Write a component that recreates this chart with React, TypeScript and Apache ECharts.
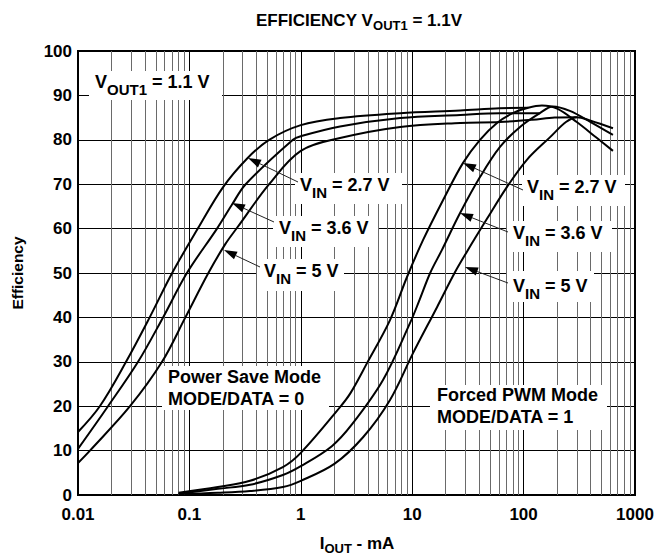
import React, { useEffect, useRef } from 'react';
import * as echarts from 'echarts';

const FONT = "'Liberation Sans', Arial, Helvetica, sans-serif";

// ---- data (I_OUT in mA, efficiency in %) ----
const psVin27: [number, number][] = [
  [0.01, 14.2], [0.0157, 20], [0.027, 30], [0.044, 40], [0.07, 50], [0.119, 60],
  [0.2, 69.3], [0.33, 75.8], [0.52, 80], [1, 83.3], [2.25, 84.9], [7.8, 86],
  [27, 86.6], [61, 87.1], [110, 87.2],
];
const psVin36: [number, number][] = [
  [0.01, 10.4], [0.0186, 20], [0.0346, 30], [0.058, 40], [0.095, 50], [0.177, 60],
  [0.24, 65.3], [0.32, 70], [0.85, 80], [1, 80.8], [2.25, 83], [7.8, 84.9],
  [27, 85.6], [61, 86], [140, 86],
];
const psVin50: [number, number][] = [
  [0.01, 7.2], [0.0128, 10], [0.0293, 20], [0.0568, 30], [0.092, 40], [0.148, 50],
  [0.21, 56.5], [0.27, 60.3], [0.52, 70], [1, 77.5], [2.25, 80.4], [7.8, 82.9],
  [27, 83.8], [61, 84], [120, 84.5], [190, 85], [300, 85.1],
];
const pwmVin27: [number, number][] = [
  [0.08, 0.5], [0.18, 1.8], [0.35, 3.2], [0.69, 6.3], [1, 9.5], [2.25, 19.8],
  [2.8, 23], [3.93, 29.7], [6.32, 39.4], [8.98, 49.1], [12.5, 57.4], [18.9, 66.4],
  [28.6, 74.8], [40.6, 80], [57.7, 83.8], [80, 86], [110, 87.2], [146, 87.7],
  [200, 87], [300, 84], [450, 80.5], [634, 77.5],
];
const pwmVin36: [number, number][] = [
  [0.08, 0.3], [0.18, 1.4], [0.35, 2.3], [0.69, 4.5], [1, 6.5], [1.9, 11], [2.9, 16],
  [5.47, 25.9], [9.55, 38.7], [11.5, 43.6], [14.5, 50], [18.5, 55.2], [26.9, 63.5],
  [40.6, 71.6], [61.4, 78.4], [92.9, 82.9], [140, 86], [183, 87.5], [260, 86.5],
  [400, 84], [634, 81.1],
];
const pwmVin50: [number, number][] = [
  [0.08, 0.2], [0.18, 0.5], [0.35, 0.9], [0.69, 1.8], [1, 3.2], [2, 7],
  [3.62, 13], [6.32, 21.4], [10.2, 32], [16.7, 42.3], [24, 50],
  [31, 54.8], [46.9, 62.2], [71, 69.4], [107, 75.5], [173, 80.6], [240, 84],
  [300, 85.1], [400, 84.3], [634, 82.6],
];

const xMin = 0.01;
const xMax = 1000;
const yMin = 0;
const yMax = 100;
const yStep = 10;
const decades = [0.01, 0.1, 1, 10, 100];
const minorSteps = [2, 3, 4, 5, 6, 7, 8, 9];

// ---- text helpers ----
let measureCtx: CanvasRenderingContext2D | null = null;
function textWidth(s: string, size: number): number {
  if (!measureCtx) measureCtx = document.createElement('canvas').getContext('2d');
  measureCtx!.font = `bold ${size}px ${FONT}`;
  return measureCtx!.measureText(s).width;
}

type Seg = { t: string; sub?: boolean };

function richText(
  segs: Seg[], x0: number, cy: number, main: number, sub: number, subDy: number,
  anchor: 'left' | 'center'
): any[] {
  const widths = segs.map((s) => textWidth(s.t, s.sub ? sub : main));
  const total = widths.reduce((a, b) => a + b, 0);
  let x = anchor === 'center' ? x0 - total / 2 : x0;
  const out: any[] = [];
  segs.forEach((s, i) => {
    const size = s.sub ? sub : main;
    const lead = s.t.length - s.t.replace(/^\s+/, '').length;
    const leadW = lead ? textWidth(s.t.slice(0, lead), size) : 0;
    out.push({
      type: 'text',
      z: 101,
      silent: true,
      style: {
        text: s.t.trim(),
        x: x + leadW,
        y: cy + (s.sub ? subDy : 0),
        font: `bold ${size}px ${FONT}`,
        fill: '#000',
        textAlign: 'left',
        textVerticalAlign: 'middle',
        align: 'left',
        verticalAlign: 'middle',
      },
    });
    x += widths[i];
  });
  return out;
}

function box(x1: number, y1: number, x2: number, y2: number): any {
  return {
    type: 'rect',
    z: 100,
    silent: true,
    shape: { x: x1, y: y1, width: x2 - x1, height: y2 - y1 },
    style: { fill: '#fff' },
  };
}

function arrow(tail: [number, number], tip: [number, number]): any[] {
  const dx = tip[0] - tail[0];
  const dy = tip[1] - tail[1];
  const len = Math.hypot(dx, dy);
  const ux = dx / len;
  const uy = dy / len;
  const L = 13;
  const W = 4.2;
  const bx = tip[0] - ux * L;
  const by = tip[1] - uy * L;
  const nx = -uy;
  const ny = ux;
  return [
    {
      type: 'line',
      z: 102,
      silent: true,
      shape: { x1: tail[0], y1: tail[1], x2: bx, y2: by },
      style: { stroke: '#222', lineWidth: 1 },
    },
    {
      type: 'polygon',
      z: 102,
      silent: true,
      shape: { points: [tip, [bx + nx * W, by + ny * W], [bx - nx * W, by - ny * W]] },
      style: { fill: '#000' },
    },
  ];
}

function vin(v: string): Seg[] {
  return [{ t: 'V' }, { t: 'IN', sub: true }, { t: ` = ${v} V` }];
}

export default function App() {
  const ref = useRef<HTMLDivElement>(null);

  useEffect(() => {
    if (!ref.current) return;
    const chart = echarts.init(ref.current, undefined, { renderer: 'svg' });

    const minorX: number[] = [];
    decades.forEach((d) => minorSteps.forEach((m) => minorX.push(+(d * m).toPrecision(3))));

    const curve = (name: string, data: [number, number][]) => ({
      name,
      type: 'line',
      data,
      showSymbol: false,
      symbol: 'none',
      smooth: 0.35,
      lineStyle: { color: '#000', width: 2 },
      z: 5,
      silent: true,
    });

    const graphics: any[] = [
      // title
      ...richText(
        [{ t: 'EFFICIENCY V' }, { t: 'OUT1', sub: true }, { t: ' = 1.1V' }],
        359, 20, 17, 13, 5, 'center'
      ),
      // x-axis name
      ...richText([{ t: 'I' }, { t: 'OUT', sub: true }, { t: ' - mA' }], 357, 543, 17, 13, 5, 'center'),
      // y-axis name
      {
        type: 'text',
        z: 101,
        x: 17,
        y: 273,
        rotation: Math.PI / 2,
        silent: true,
        style: {
          text: 'Efficiency',
          x: 0,
          y: 0,
          font: `bold 15.5px ${FONT}`,
          fill: '#000',
          textAlign: 'center',
          textVerticalAlign: 'middle',
          align: 'center',
          verticalAlign: 'middle',
        },
      },
      // VOUT1 label
      box(89, 71, 222, 100),
      ...richText([{ t: 'V' }, { t: 'OUT1', sub: true }, { t: ' = 1.1 V' }], 95, 82, 18, 15, 7, 'left'),
      // power-save labels
      box(295, 173, 402, 204),
      ...richText(vin('2.7'), 300, 185, 18, 15, 7, 'left'),
      box(273, 216, 378, 247),
      ...richText(vin('3.6'), 279, 228, 18, 15, 7, 'left'),
      box(257, 259, 344, 291),
      ...richText(vin('5'), 264, 271, 18, 15, 7, 'left'),
      // PWM labels
      box(522, 175, 625, 206),
      ...richText(vin('2.7'), 527, 187, 18, 15, 7, 'left'),
      box(507, 221, 612, 252),
      ...richText(vin('3.6'), 513, 233, 18, 15, 7, 'left'),
      box(507, 271, 594, 302),
      ...richText(vin('5'), 513, 286, 18, 15, 7, 'left'),
      // arrows
      ...arrow([298, 182], [248, 158]),
      ...arrow([274, 222], [232, 203]),
      ...arrow([260, 267], [224, 250]),
      ...arrow([523, 190], [463, 163]),
      ...arrow([508, 232], [460, 213]),
      ...arrow([508, 283], [465, 267]),
      // mode labels
      box(162, 366, 329, 410),
      ...richText([{ t: 'Power Save Mode' }], 168, 377, 18, 14, 0, 'left'),
      ...richText([{ t: 'MODE/DATA = 0' }], 168, 399, 18, 14, 0, 'left'),
      box(430, 385, 607, 430),
      ...richText([{ t: 'Forced PWM Mode' }], 437, 395, 18, 14, 0, 'left'),
      ...richText([{ t: 'MODE/DATA = 1' }], 437, 417, 18, 14, 0, 'left'),
    ];

    chart.setOption({
      animation: false,
      grid: {
        left: 78,
        right: 22,
        top: 51,
        bottom: 62,
        show: true,
        borderColor: '#000',
        borderWidth: 2,
        backgroundColor: 'transparent',
      },
      xAxis: {
        type: 'log',
        logBase: 10,
        min: xMin,
        max: xMax,
        axisLine: { show: false },
        axisTick: { show: false },
        splitLine: { show: true, lineStyle: { color: '#000', width: 1 } },
        axisLabel: {
          margin: 11,
          color: '#000',
          fontFamily: FONT,
          fontWeight: 'bold',
          fontSize: 17,
          formatter: (v: number) => (v >= 1 ? String(Math.round(v)) : String(+v.toPrecision(1))),
        },
      },
      yAxis: {
        type: 'value',
        min: yMin,
        max: yMax,
        interval: yStep,
        axisLine: { show: false },
        axisTick: { show: false },
        splitLine: { show: true, lineStyle: { color: '#000', width: 1 } },
        axisLabel: {
          margin: 6,
          color: '#000',
          fontFamily: FONT,
          fontWeight: 'bold',
          fontSize: 17,
        },
      },
      series: [
        {
          name: 'minor-grid',
          type: 'line',
          data: [],
          z: 1,
          silent: true,
          markLine: {
            silent: true,
            symbol: ['none', 'none'],
            label: { show: false },
            lineStyle: { color: '#6a6a6a', width: 1, type: 'solid' },
            emphasis: { disabled: true },
            data: minorX.map((v) => ({ xAxis: v })),
          },
        },
        curve('PS VIN=2.7V', psVin27),
        curve('PS VIN=3.6V', psVin36),
        curve('PS VIN=5V', psVin50),
        curve('PWM VIN=2.7V', pwmVin27),
        curve('PWM VIN=3.6V', pwmVin36),
        curve('PWM VIN=5V', pwmVin50),
      ],
      graphic: { elements: graphics },
    });

    return () => chart.dispose();
  }, []);

  return (
    <div
      ref={ref}
      style={{ position: 'absolute', left: 0, top: 0, width: 657, height: 557, background: '#fff' }}
    />
  );
}
